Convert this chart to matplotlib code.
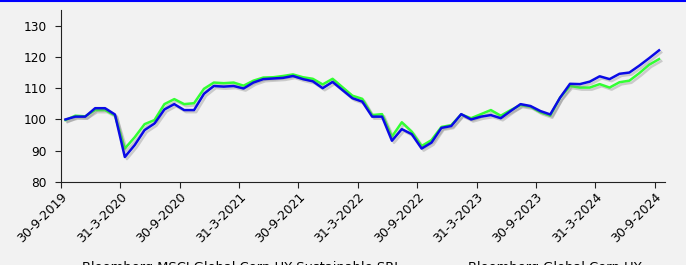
import numpy as np
import matplotlib
matplotlib.use("Agg")
import matplotlib.pyplot as plt
import matplotlib.patheffects as pe
from matplotlib.lines import Line2D

# Monthly index levels, Sep 2019 .. Sep 2024 (61 points)
sri = [99.8, 101.2, 101.0, 103.0, 103.0, 101.3, 90.7, 94.3, 98.5, 99.8,
       104.9, 106.5, 104.9, 105.2, 109.8, 111.8, 111.6, 111.8, 110.8, 112.4,
       113.4, 113.5, 113.9, 114.4, 113.5, 113.0, 111.2, 113.0, 110.3, 107.6,
       106.6, 101.4, 101.7, 94.5, 99.1, 96.1, 91.5, 93.4, 97.6, 98.2,
       101.6, 100.4, 101.7, 103.0, 101.2, 103.0, 104.6, 104.1, 102.3, 101.2,
       107.0, 110.7, 110.2, 110.2, 111.3, 110.2, 111.9, 112.4, 114.8, 117.5,
       119.3]
hy = [100.0, 100.9, 100.9, 103.6, 103.6, 101.6, 88.0, 91.8, 96.6, 98.7,
      103.2, 104.9, 103.0, 103.0, 108.2, 110.7, 110.5, 110.7, 109.9, 111.8,
      112.9, 113.1, 113.3, 113.9, 112.9, 112.2, 110.0, 112.0, 109.4, 106.8,
      105.7, 100.9, 100.9, 93.2, 96.9, 95.3, 90.7, 92.6, 97.3, 97.9,
      101.7, 100.0, 100.9, 101.4, 100.4, 102.7, 104.9, 104.3, 102.7, 101.6,
      107.0, 111.4, 111.3, 112.1, 113.8, 112.9, 114.6, 115.0, 117.2, 119.6,
      122.1]
tick_labels = ["30-9-2019", "31-3-2020", "30-9-2020", "31-3-2021", "30-9-2021",
               "31-3-2022", "30-9-2022", "31-3-2023", "30-9-2023", "31-3-2024",
               "30-9-2024"]
series_names = ["Bloomberg MSCI Global Corp HY Sustainable SRI",
                "Bloomberg Global Corp HY"]

bg = "#f2f2f2"
fig = plt.figure(figsize=(6.86, 2.65), dpi=100, facecolor=bg)
ax = fig.add_axes([61/686, 1-182/265, (665-61)/686, (182-10)/265], facecolor=bg)

x = np.arange(len(hy))
shadow = [pe.SimpleLineShadow(offset=(1.5, -1.5), shadow_color="#808080", alpha=0.35),
          pe.Normal()]
ax.plot(x, sri, color="#33ff33", lw=1.8, label=series_names[0], path_effects=shadow, zorder=2)
ax.plot(x, hy, color="#0a0ae6", lw=1.8, label=series_names[1], path_effects=shadow, zorder=3)

off = 0.45
ax.set_xticks(np.arange(0, 61, 6) - off)
ax.set_xticklabels(tick_labels, rotation=45, ha="right", rotation_mode="anchor", fontsize=9)
ax.set_xlim(-off, 60.6)
ax.set_ylim(80, 135)
ax.set_yticks(np.arange(80, 131, 10))
ax.tick_params(axis="y", labelsize=8.7, length=4.3, pad=6, color="#222222")
ax.tick_params(axis="x", length=4, color="#222222", pad=2)
for s in ["top", "right"]:
    ax.spines[s].set_visible(False)
for s in ["left", "bottom"]:
    ax.spines[s].set_color("#222222")

fig.legend(loc="upper left", bbox_to_anchor=(45/686, 1-261/265), ncol=2, frameon=False,
           fontsize=9.4, borderpad=0, borderaxespad=0, columnspacing=2.63,
           handlelength=2, handletextpad=0.8)

fig.add_artist(Line2D([0, 1], [1-0.8/265, 1-0.8/265], color="#0000ff", lw=1.5,
                      transform=fig.transFigure))

fig.savefig("out.png", dpi=100, facecolor=bg)
